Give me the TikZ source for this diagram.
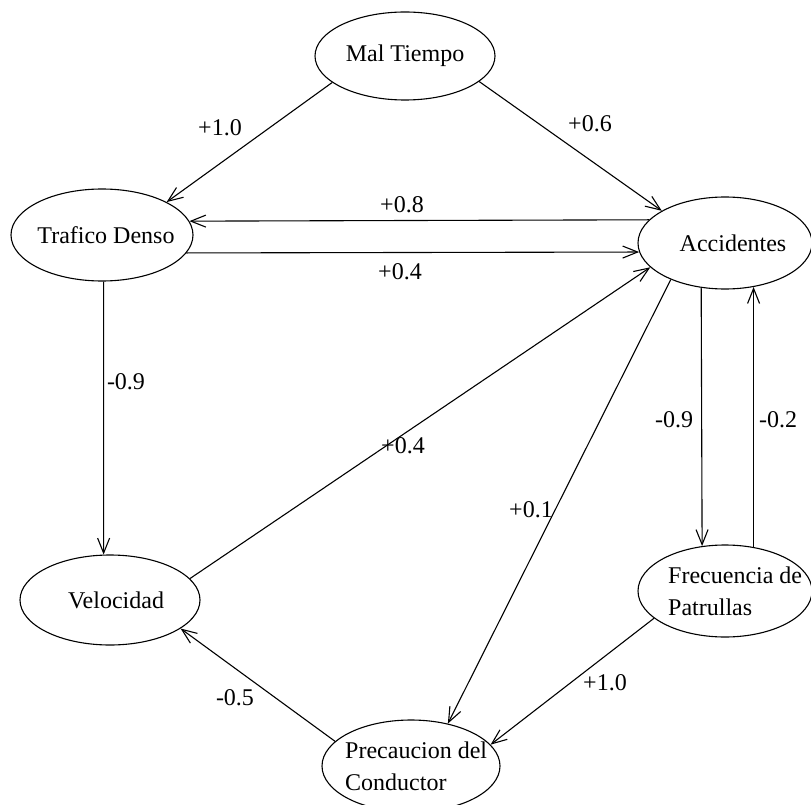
\documentclass[tikz,border=0pt]{standalone}
\usepackage{fontspec}
\setmainfont{Liberation Serif}
\usetikzlibrary{arrows.meta,shapes.geometric}
\begin{document}
\begin{tikzpicture}[x=1pt,y=-1pt,
  state/.style={draw, ellipse, line width=1.1pt, inner sep=0pt},
  txt/.style={inner sep=0pt, font=\fontsize{24}{32}\selectfont},
  lbl/.style={inner sep=0pt, font=\fontsize{24}{32}\selectfont},
  link/.style={line width=1.1pt, -{Straight Barb[length=15pt,width=12pt]}}]
\useasboundingbox (0,0) rectangle (811,805);

% causal variables
\node[state, minimum width=180pt, minimum height=88pt] (mt)  at (405,56)  {};
\node[state, minimum width=182pt, minimum height=92pt] (td)  at (102,235) {};
\node[state, minimum width=174pt, minimum height=92pt] (acc) at (725,243) {};
\node[state, minimum width=180pt, minimum height=90pt] (vel) at (110,600) {};
\node[state, minimum width=174pt, minimum height=92pt] (fre) at (725,591) {};
\node[state, minimum width=178pt, minimum height=92pt] (pre) at (411,766) {};

\node[txt] (mt-t)  at ([xshift=0]mt)  {Mal Tiempo};
\node[txt] (td-t)  at ([xshift=4]td)  {Trafico Denso};
\node[txt] (acc-t) at ([xshift=8]acc) {Accidentes};
\node[txt] (vel-t) at ([xshift=6]vel) {Velocidad};
\node[txt, anchor=west, align=left] (fre-t) at ([xshift=-57]fre) {Frecuencia de\\Patrullas};
\node[txt, anchor=west, align=left] (pre-t) at ([xshift=-66]pre) {Precaucion del\\Conductor};

% influences
\draw[link] (mt.200)   -- (td.27.6);
\draw[link] (mt.341.8) -- (acc.153.8);
\draw[link] (acc.163)  -- (td.9.89);
\draw[link] (td.-12.14) -- (acc.186.7);
\draw[link] (td.-88.75) -- (vel.98.87);
\draw[link] (vel.15.5) -- (acc.198.2);
\draw[link] (acc.214.4) -- (pre.49.3);
\draw[link] (acc.242.6) -- (fre.117.4);
\draw[link] (fre.57.3) -- (acc.-57.3);
\draw[link] (fre.201.1) -- (pre.15);
\draw[link] (pre.162.9) -- (vel.-22.7);

% weights
\node[lbl] (w1)  at (220,128) {+1.0};
\node[lbl] (w2)  at (590,124) {+0.6};
\node[lbl] (w3)  at (402,205) {+0.8};
\node[lbl] (w4)  at (400,272) {+0.4};
\node[lbl] (w5)  at (126,382) {-0.9};
\node[lbl] (w6)  at (403,446) {+0.4};
\node[lbl] (w7)  at (531,510) {+0.1};
\node[lbl] (w8)  at (674,420) {-0.9};
\node[lbl] (w9)  at (778,420) {-0.2};
\node[lbl] (w10) at (605,683) {+1.0};
\node[lbl] (w11) at (235,698) {-0.5};
\end{tikzpicture}
\end{document}
